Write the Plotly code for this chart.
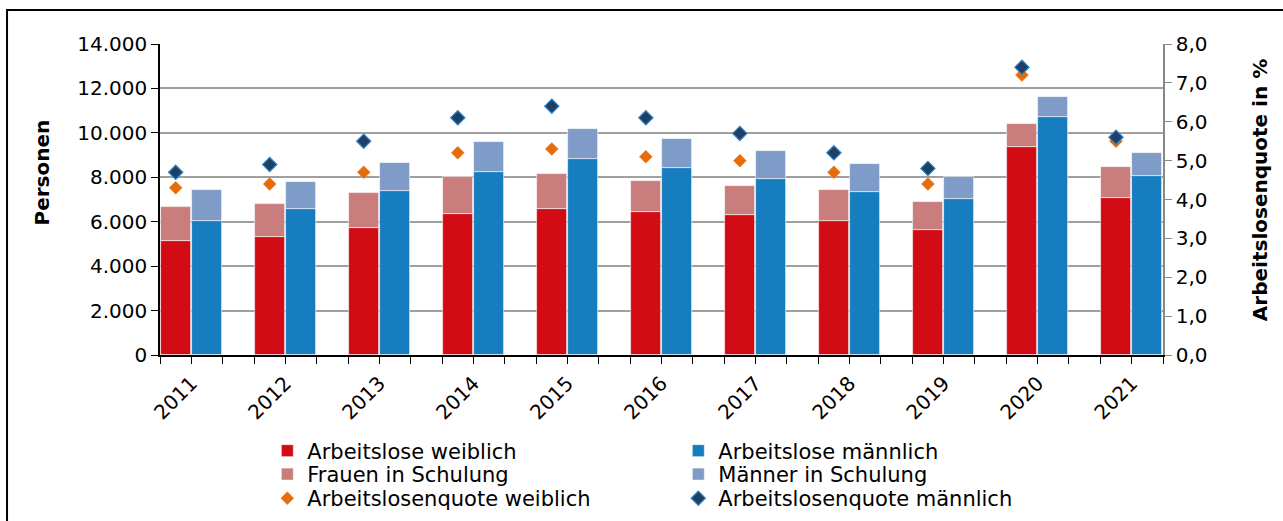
import plotly.graph_objects as go

years = ["2011", "2012", "2013", "2014", "2015", "2016", "2017", "2018", "2019", "2020", "2021"]

# Personen
arbeitslose_w = [5120, 5300, 5720, 6360, 6590, 6420, 6300, 6050, 5640, 9350, 7050]
schulung_w = [1540, 1480, 1590, 1650, 1550, 1410, 1290, 1370, 1260, 1060, 1430]
arbeitslose_m = [6050, 6560, 7370, 8240, 8820, 8400, 7940, 7350, 7010, 10700, 8070]
schulung_m = [1380, 1230, 1290, 1350, 1370, 1310, 1250, 1250, 990, 900, 1040]

# Arbeitslosenquote in %
quote_w = [4.3, 4.4, 4.7, 5.2, 5.3, 5.1, 5.0, 4.7, 4.4, 7.2, 5.5]
quote_m = [4.7, 4.9, 5.5, 6.1, 6.4, 6.1, 5.7, 5.2, 4.8, 7.4, 5.6]

FONT = "DejaVu Sans"

# each year takes three slots: female bar, male bar, empty gap
x_w = [3 * i for i in range(len(years))]
x_m = [3 * i + 1 for i in range(len(years))]

bar_line = dict(color="rgba(255,255,255,0.7)", width=0.8)

fig = go.Figure()
fig.add_trace(go.Bar(x=x_w, y=arbeitslose_w, name="Arbeitslose weiblich", width=0.96,
                     legend="legend", marker=dict(color="#D20C14", line=bar_line)))
fig.add_trace(go.Bar(x=x_m, y=arbeitslose_m, name="Arbeitslose männlich", width=0.96,
                     legend="legend", marker=dict(color="#167DBF", line=bar_line)))
fig.add_trace(go.Bar(x=x_w, y=schulung_w, name="Frauen in Schulung", width=0.96,
                     legend="legend2", marker=dict(color="#C97D7D", line=bar_line)))
fig.add_trace(go.Bar(x=x_m, y=schulung_m, name="Männer in Schulung", width=0.96,
                     legend="legend2", marker=dict(color="#7F9CC8", line=bar_line)))
fig.add_trace(go.Scatter(x=x_w, y=quote_w, name="Arbeitslosenquote weiblich", mode="markers",
                         yaxis="y2", legend="legend3",
                         marker=dict(symbol="diamond", size=10, color="#E46C0A",
                                     line=dict(color="#F08A30", width=0.5))))
fig.add_trace(go.Scatter(x=x_w, y=quote_m, name="Arbeitslosenquote männlich", mode="markers",
                         yaxis="y2", legend="legend3",
                         marker=dict(symbol="diamond", size=11, color="#1F3F66",
                                     line=dict(color="#2E86C8", width=1.2))))

# tick marks on every slot boundary, labels only between the two bars of a year
n_slots = 3 * len(years) - 1
tickvals = [k - 0.5 for k in range(n_slots + 1)]
ticktext = []
for v in tickvals:
    k = v + 0.5
    if k % 3 == 1:
        ticktext.append(years[int(k // 3)])
    else:
        ticktext.append("")


def legend_row(y):
    return dict(orientation="h", x=0.107, xref="paper", y=y, yref="container",
                xanchor="left", yanchor="middle", bgcolor="rgba(0,0,0,0)",
                entrywidth=366, entrywidthmode="pixels", itemwidth=30,
                font=dict(family=FONT, size=21), traceorder="normal")


fig.update_layout(
    width=1283, height=521,
    barmode="relative",
    bargap=0,
    separators=",.",
    paper_bgcolor="white",
    plot_bgcolor="white",
    margin=dict(l=160, r=120, t=44, b=166),
    font=dict(family=FONT, size=20, color="black"),
    showlegend=True,
    legend=legend_row(0.1344),
    legend2=legend_row(0.0893),
    legend3=legend_row(0.0432),
    xaxis=dict(range=[-0.5, n_slots - 0.5], tickvals=tickvals, ticktext=ticktext,
               tickangle=-45, ticks="outside", ticklen=7, tickcolor="black",
               showline=True, linecolor="black", linewidth=1.5, showgrid=False,
               zeroline=False, tickfont=dict(size=20), automargin=False),
    yaxis=dict(range=[0, 14000], dtick=2000, tickformat=",d", ticks="outside", ticklen=7,
               tickcolor="black", showline=True, linecolor="black", linewidth=1.5,
               showgrid=True, gridcolor="#A0A0A0", gridwidth=1.5, zeroline=False,
               tickfont=dict(size=20), automargin=False),
    yaxis2=dict(range=[0, 8], dtick=1, tickformat=".1f", overlaying="y", side="right",
                ticks="outside", ticklen=7, tickcolor="#888888", showline=True,
                linecolor="#888888", linewidth=1.5, showgrid=False, zeroline=False,
                tickfont=dict(size=20), automargin=False),
    annotations=[
        dict(text="<b>Personen</b>", xref="paper", yref="paper", x=-0.1176, y=0.587,
             xanchor="center", yanchor="middle",
             textangle=-90, showarrow=False, font=dict(size=20)),
        dict(text="<b>Arbeitslosenquote in %</b>", xref="paper", yref="paper", x=1.0967, y=0.53,
             xanchor="center", yanchor="middle",
             textangle=-90, showarrow=False, font=dict(size=20)),
    ],
    shapes=[
        dict(type="rect", xref="paper", yref="paper", x0=-0.1525, x1=1.2, y0=-0.7, y1=1.1093,
             line=dict(color="black", width=2), layer="below"),
    ],
)

fig.write_html("out.html", config={"displayModeBar": False},
               post_script="document.body.style.margin='0px';")
